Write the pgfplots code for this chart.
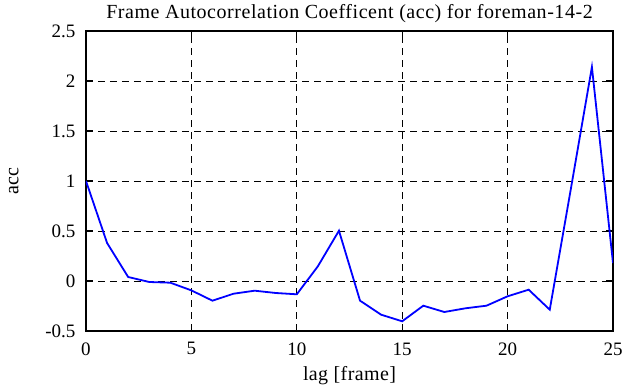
\documentclass[border=0pt]{standalone}
\usepackage{fontspec}
\setmainfont{Liberation Serif}
\usepackage{pgfplots}
\pgfplotsset{compat=1.18}
\begin{document}
\begin{tikzpicture}
\begin{axis}[
  scale only axis, width=527pt, height=300pt,
  xmin=0, xmax=25, ymin=-0.5, ymax=2.5,
  xtick={0,5,...,25}, ytick={-0.5,0,...,2.5},
  yticklabels={-0.5,0,0.5,1,1.5,2,2.5},
  tick align=inside, tick pos=both,
  major tick length=7pt,
  grid=major,
  major grid style={black, dash pattern=on 7pt off 5pt, line width=0.8pt},
  axis line style={black, line width=1.2pt},
  every tick/.style={black, line width=1.2pt},
  /pgf/number format/assume math mode=true,
  tick label style={font=\fontsize{19}{22}\selectfont},
  yticklabel style={xshift=-7pt},
  xticklabel style={yshift=-8pt},
  label style={font=\fontsize{20}{23}\selectfont\addfontfeatures{LetterSpace=2}},
  title style={font=\fontsize{20}{23}\selectfont\addfontfeatures{LetterSpace=2.7}, at={(axis description cs:0.5,1.05)}, anchor=base, yshift=-9pt},
  title={Frame Autocorrelation Coefficent (acc) for foreman-14-2},
  xlabel={lag [frame]}, ylabel={acc},
  xlabel style={at={(axis description cs:0.5,-0.15)}, anchor=center},
  ylabel style={at={(axis description cs:-0.137,0.5)}, anchor=center},
]
\addplot[blue, line width=1.8pt, mark=none] coordinates {
(0,1.0) (1,0.38) (2,0.04) (3,-0.01) (4,-0.017) (5,-0.094) (6,-0.197)
(7,-0.127) (8,-0.097) (9,-0.12) (10,-0.133) (11,0.147) (12,0.503)
(13,-0.197) (14,-0.337) (15,-0.403) (16,-0.247) (17,-0.31) (18,-0.273)
(19,-0.247) (20,-0.153) (21,-0.087) (22,-0.287) (23,0.92) (24,2.14) (25,0.18)
};
\end{axis}
\pgfresetboundingbox
\useasboundingbox (-86pt,-56pt) rectangle (549pt,331pt);
\end{tikzpicture}
\end{document}
